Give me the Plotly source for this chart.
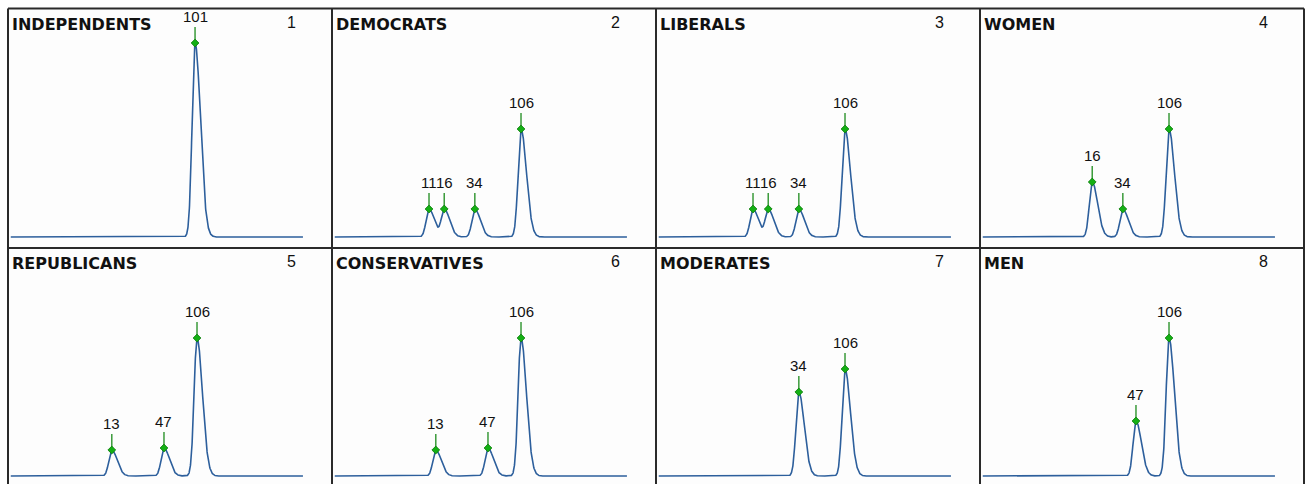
import numpy as np
import plotly.graph_objects as go

W, H = 1306, 484

# ---- data ----
PANEL_TITLES = ["INDEPENDENTS", "DEMOCRATS", "LIBERALS", "WOMEN",
                "REPUBLICANS", "CONSERVATIVES", "MODERATES", "MEN"]
PANEL_NUMBERS = ["1", "2", "3", "4", "5", "6", "7", "8"]

INDEPENDENTS_SIZES = [101]
INDEPENDENTS_HEIGHTS = [194]
DEMOCRATS_SIZES = [11, 16, 34, 106]
DEMOCRATS_HEIGHTS = [28, 28, 28, 108]
LIBERALS_SIZES = [11, 16, 34, 106]
LIBERALS_HEIGHTS = [28, 28, 28, 108]
WOMEN_SIZES = [16, 34, 106]
WOMEN_HEIGHTS = [55, 28, 108]
REPUBLICANS_SIZES = [13, 47, 106]
REPUBLICANS_HEIGHTS = [26, 28, 138]
CONSERVATIVES_SIZES = [13, 47, 106]
CONSERVATIVES_HEIGHTS = [26, 28, 138]
MODERATES_SIZES = [34, 106]
MODERATES_HEIGHTS = [84, 107]
MEN_SIZES = [47, 106]
MEN_HEIGHTS = [55, 138]

PEAK_SIZES = [INDEPENDENTS_SIZES, DEMOCRATS_SIZES, LIBERALS_SIZES, WOMEN_SIZES,
              REPUBLICANS_SIZES, CONSERVATIVES_SIZES, MODERATES_SIZES, MEN_SIZES]
PEAK_HEIGHTS = [INDEPENDENTS_HEIGHTS, DEMOCRATS_HEIGHTS, LIBERALS_HEIGHTS, WOMEN_HEIGHTS,
                REPUBLICANS_HEIGHTS, CONSERVATIVES_HEIGHTS, MODERATES_HEIGHTS, MEN_HEIGHTS]

# ---- peak shape / style ----
PX_PER_LN = 40.6
SIGMA_LEFT = 2.9 / PX_PER_LN
SIGMA_RIGHT = 5.4 / PX_PER_LN
STICK_LEN = 16
X_LOG_RANGE = [0.0039, 3.469]
TRACE_MIN, TRACE_MAX = 1.08, 1440

CURVE_COLOR = "#2d5f9c"
STICK_COLOR = "#3a9a3a"
MARK_COLOR = "#14b014"
BORDER_COLOR = "#2a2a2a"

COL_X = [8, 332, 656, 980, 1304]
ROW_Y = [8.5, 248, 484]
BASE_Y = [237, 476]

fig = go.Figure()

u_grid = np.linspace(np.log(TRACE_MIN), np.log(TRACE_MAX), 2000)

for i in range(8):
    r, c = divmod(i, 4)
    ax = "" if i == 0 else str(i + 1)
    xa, ya = "x" + ax, "y" + ax
    sizes = PEAK_SIZES[i]
    heights = PEAK_HEIGHTS[i]

    curve = np.zeros_like(u_grid)
    for s, h in zip(sizes, heights):
        mu = np.log(s)
        sig = np.where(u_grid < mu, SIGMA_LEFT, SIGMA_RIGHT)
        curve += h * np.exp(-((u_grid - mu) ** 2) / (2 * sig ** 2))

    fig.add_trace(go.Scatter(x=np.exp(u_grid), y=curve, mode="lines",
                             line=dict(color=CURVE_COLOR, width=1.6),
                             xaxis=xa, yaxis=ya, showlegend=False, hoverinfo="skip"))
    for s, h in zip(sizes, heights):
        fig.add_trace(go.Scatter(x=[s, s], y=[h, h + STICK_LEN], mode="lines",
                                 line=dict(color=STICK_COLOR, width=1.5),
                                 xaxis=xa, yaxis=ya, showlegend=False, hoverinfo="skip"))
        fig.add_annotation(x=np.log10(s), y=h, xref=xa, yref=ya, text=str(s),
                           showarrow=False, yanchor="bottom", yshift=STICK_LEN,
                           font=dict(family="Liberation Sans, Arial", size=15, color="#111111"))
    fig.add_trace(go.Scatter(x=sizes, y=heights, mode="markers",
                             marker=dict(symbol="diamond", size=6, color=MARK_COLOR,
                                         line=dict(color="#0a7a0a", width=0.8)),
                             xaxis=xa, yaxis=ya, showlegend=False, hoverinfo="skip"))

    x0, x1 = COL_X[c], COL_X[c + 1]
    y_top, y_bot = ROW_Y[r], ROW_Y[r + 1]
    base = BASE_Y[r]
    dom_x = [x0 / W, x1 / W]
    dom_y = [1 - y_bot / H, 1 - y_top / H]
    y_range = [-(y_bot - base), base - y_top]

    fig.layout["xaxis" + ax] = dict(domain=dom_x, type="log", range=X_LOG_RANGE,
                                    visible=False, anchor=ya, fixedrange=True)
    fig.layout["yaxis" + ax] = dict(domain=dom_y, range=y_range, visible=False,
                                    anchor=xa, fixedrange=True)

    fig.add_annotation(x=0, y=1, xref=xa + " domain", yref=ya + " domain",
                       text=PANEL_TITLES[i], showarrow=False, xanchor="left", yanchor="top",
                       xshift=2, yshift=-4,
                       font=dict(family="DejaVu Sans", size=16, color="#111111", weight="bold"))
    fig.add_annotation(x=(290 - 0) / (x1 - x0), y=1, xref=xa + " domain", yref=ya + " domain",
                       text=PANEL_NUMBERS[i], showarrow=False, xanchor="right", yanchor="top",
                       yshift=-3,
                       font=dict(family="Liberation Sans, Arial", size=16, color="#111111"))

shapes = []
for xp in COL_X:
    shapes.append(dict(type="line", xref="paper", yref="paper",
                       x0=xp / W, x1=xp / W, y0=1 - ROW_Y[0] / H, y1=-0.05,
                       line=dict(color=BORDER_COLOR, width=2)))
for yp in ROW_Y[:2]:
    shapes.append(dict(type="line", xref="paper", yref="paper",
                       x0=COL_X[0] / W, x1=COL_X[-1] / W, y0=1 - yp / H, y1=1 - yp / H,
                       line=dict(color=BORDER_COLOR, width=2)))

fig.update_layout(width=W, height=H, margin=dict(l=0, r=0, t=0, b=0),
                  paper_bgcolor="white", plot_bgcolor="#fdfdfd", shapes=shapes,
                  showlegend=False)

fig.write_html("out.html", config={"displayModeBar": False})
